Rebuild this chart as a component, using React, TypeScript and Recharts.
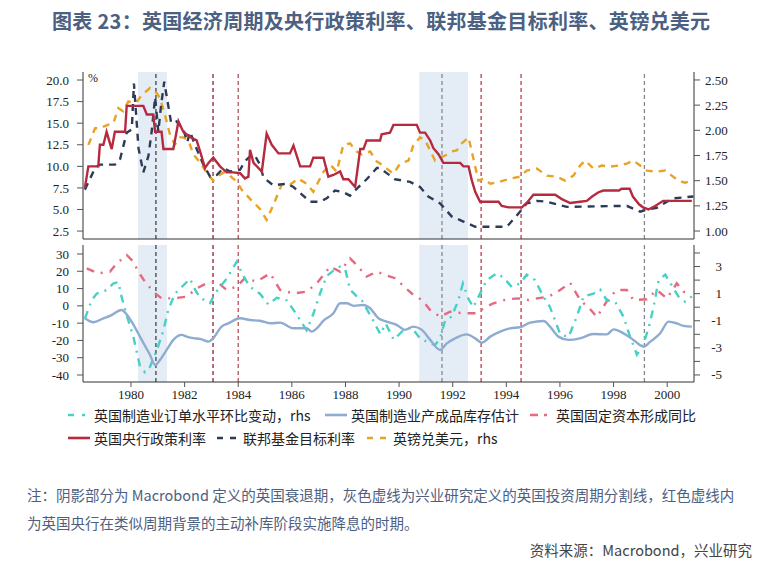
import React from "react";
import { LineChart, Line, XAxis, YAxis, ReferenceArea, ReferenceLine } from "recharts";

// [year, value]
const boeRate = [
  [1978.28, 7.5], [1978.41, 10], [1978.78, 10], [1978.84, 12.5], [1978.97, 12.5], [1979.09, 14],
  [1979.28, 12], [1979.4, 14], [1979.78, 14], [1979.84, 17], [1980.46, 17], [1980.59, 16],
  [1980.83, 16], [1980.9, 14], [1981.14, 14], [1981.21, 12], [1981.58, 12], [1981.77, 15.2],
  [1981.95, 14], [1982.2, 13.4], [1982.45, 13], [1982.58, 11.7], [1982.76, 9.8], [1982.89, 10.4],
  [1983.07, 11], [1983.32, 10], [1983.57, 9.3], [1983.82, 9.3], [1984.07, 9.2], [1984.25, 8.6],
  [1984.38, 8.8], [1984.44, 11.9], [1984.57, 10.4], [1984.88, 9.4], [1985.06, 13.8], [1985.25, 12.5],
  [1985.5, 11.5], [1985.93, 11.5], [1986.06, 12.4], [1986.31, 10], [1986.68, 10], [1986.8, 11],
  [1987.18, 11], [1987.36, 8.8], [1987.55, 9], [1987.8, 9.4], [1987.92, 8.5], [1988.11, 8.5],
  [1988.36, 7.6], [1988.55, 12], [1988.67, 12], [1988.79, 13], [1989.29, 13], [1989.35, 13.7],
  [1989.66, 13.9], [1989.79, 14.8], [1990.66, 14.8], [1990.78, 13.9], [1990.97, 13.9], [1991.16, 13],
  [1991.28, 12.1], [1991.47, 11.4], [1991.65, 10.4], [1992.28, 10.4], [1992.4, 10], [1992.59, 10],
  [1992.71, 8.4], [1992.84, 7.05], [1993.02, 5.9], [1993.71, 5.9], [1993.83, 5.4], [1994.08, 5.25],
  [1994.58, 5.25], [1994.76, 5.75], [1995.01, 6.7], [1995.82, 6.7], [1996.07, 6.2], [1996.38, 5.75],
  [1996.75, 5.9], [1997.0, 6.0], [1997.2, 6.5], [1997.44, 7.0], [1997.62, 7.2], [1998.2, 7.2],
  [1998.3, 7.4], [1998.6, 7.4], [1998.72, 6.5], [1998.95, 5.6], [1999.1, 5.25], [1999.3, 5.0],
  [1999.55, 5.4], [1999.85, 6.0], [2000.92, 6.0],
];

const fedFunds = [
  [1978.28, 7.3], [1978.66, 9.8], [1978.84, 10.2], [1979.4, 10.2], [1979.59, 10.8], [1979.84, 13.9],
  [1980.03, 14.3], [1980.11, 19.6], [1980.28, 12.1], [1980.46, 9.3], [1980.65, 11.2], [1980.77, 14],
  [1980.9, 18], [1981.02, 14], [1981.12, 17], [1981.24, 19.8], [1981.5, 15], [1981.7, 15.2],
  [1981.95, 14.3], [1982.1, 12.8], [1982.2, 14], [1982.45, 12], [1982.7, 10.2], [1982.95, 8.8],
  [1983.2, 9], [1983.45, 9.8], [1983.7, 9.4], [1984.07, 9.6], [1984.25, 10.6], [1984.5, 11.3],
  [1984.63, 11.2], [1984.81, 10.2], [1984.94, 8.7], [1985.31, 7.8], [1985.81, 8], [1986.06, 7.6],
  [1986.31, 6.9], [1986.68, 5.9], [1987.05, 5.9], [1987.3, 6.3], [1987.61, 7.2], [1987.92, 7],
  [1988.17, 6.6], [1988.42, 7.4], [1988.79, 8.5], [1989.17, 9.8], [1989.29, 9.8], [1989.5, 9.3],
  [1989.85, 8.5], [1990.41, 8.2], [1990.78, 7.6], [1991.09, 6.5], [1991.53, 5.7], [1991.96, 4.2],
  [1992.4, 3.6], [1992.84, 3.0], [1994.02, 3.0], [1994.39, 4.3], [1994.76, 5.7], [1995.14, 6.0],
  [1995.51, 5.9], [1996.01, 5.5], [1996.26, 5.3], [1998.0, 5.4], [1998.51, 5.4], [1998.99, 4.75],
  [1999.24, 5.0], [1999.61, 5.2], [1999.99, 5.9], [2000.24, 6.3], [2000.98, 6.5],
];

const gbpUsd = [
  [1978.41, 1.855], [1978.66, 2.02], [1978.84, 2.02], [1979.09, 2.05], [1979.34, 2.07], [1979.53, 2.22],
  [1979.71, 2.19], [1979.9, 2.285], [1980.21, 2.28], [1980.4, 2.35], [1980.71, 2.42], [1980.9, 2.39],
  [1981.08, 2.32], [1981.27, 2.15], [1981.46, 1.95], [1981.64, 1.86], [1981.83, 1.93], [1981.95, 1.93],
  [1982.14, 1.9], [1982.33, 1.76], [1982.58, 1.68], [1982.82, 1.58], [1983.07, 1.5], [1983.26, 1.55],
  [1983.45, 1.58], [1983.69, 1.55], [1983.94, 1.49], [1984.13, 1.41], [1984.44, 1.32], [1984.81, 1.22],
  [1985.06, 1.11], [1985.31, 1.26], [1985.62, 1.46], [1985.93, 1.46], [1986.24, 1.52], [1986.55, 1.47],
  [1986.8, 1.39], [1987.18, 1.59], [1987.43, 1.66], [1987.67, 1.59], [1987.92, 1.855], [1988.17, 1.87],
  [1988.42, 1.79], [1988.61, 1.76], [1988.92, 1.79], [1989.17, 1.69], [1989.29, 1.67], [1989.54, 1.62],
  [1989.79, 1.57], [1990.04, 1.67], [1990.35, 1.7], [1990.53, 1.85], [1990.78, 1.93], [1990.97, 1.9],
  [1991.16, 1.8], [1991.34, 1.7], [1991.53, 1.73], [1991.72, 1.75], [1991.96, 1.79], [1992.15, 1.8],
  [1992.34, 1.87], [1992.59, 1.93], [1992.77, 1.72], [1992.96, 1.5], [1993.15, 1.52], [1993.4, 1.47],
  [1993.77, 1.49], [1994.14, 1.52], [1994.51, 1.54], [1994.76, 1.6], [1995.14, 1.62], [1995.51, 1.55],
  [1995.88, 1.54], [1996.19, 1.5], [1996.5, 1.55], [1996.75, 1.65], [1996.94, 1.7], [1997.25, 1.62],
  [1997.56, 1.65], [1997.87, 1.64], [1998.18, 1.65], [1998.49, 1.67], [1998.74, 1.7], [1998.99, 1.65],
  [1999.24, 1.6], [1999.61, 1.59], [1999.92, 1.6], [2000.17, 1.55], [2000.42, 1.5], [2000.67, 1.48],
  [2000.92, 1.5],
];

const inventory = [
  [1978.28, -7.2], [1978.6, -9.5], [1978.97, -7.2], [1979.22, -5.8], [1979.65, -2.4], [1979.84, -5],
  [1980.09, -10.8], [1980.4, -19.7], [1980.71, -28.4], [1980.9, -34.2], [1981.08, -31.3], [1981.33, -25.5],
  [1981.58, -19.7], [1981.89, -16.8], [1982.08, -17.8], [1982.33, -18.7], [1982.58, -19.1], [1982.89, -20.7],
  [1983.07, -18.7], [1983.38, -12], [1983.63, -10.1], [1984.07, -7.2], [1984.44, -8.2], [1984.81, -8.6],
  [1985.19, -10.1], [1985.56, -9.7], [1986.06, -13], [1986.55, -13], [1986.74, -14.9], [1986.93, -13],
  [1987.18, -8.6], [1987.55, -4.3], [1987.8, 1.5], [1988.05, 1.5], [1988.3, 0], [1988.67, 0.5],
  [1988.92, -1.4], [1989.23, -7.2], [1989.54, -9.1], [1989.91, -11], [1990.22, -13.9], [1990.53, -12],
  [1990.85, -13.9], [1991.16, -19.7], [1991.53, -25.5], [1991.78, -21.7], [1992.09, -18.8], [1992.52, -16.5],
  [1992.84, -18.8], [1993.08, -21.3], [1993.4, -17.8], [1993.77, -14.9], [1994.14, -13], [1994.51, -12.4],
  [1994.89, -9.7], [1995.39, -8.8], [1995.63, -12], [1995.94, -17.8], [1996.32, -19.7], [1996.75, -18.8],
  [1997.25, -16.3], [1997.75, -16.5], [1998.0, -13.6], [1998.37, -15.9], [1998.74, -19.7], [1999.12, -23.6],
  [1999.37, -20.7], [1999.74, -15.9], [2000.05, -9.1], [2000.36, -10.1], [2000.61, -11.6], [2000.92, -12],
];

const fixedCapital = [
  [1978.35, 21.7], [1978.78, 18.8], [1979.22, 19.8], [1979.47, 24.6], [1979.84, 29.4], [1980.09, 25.5],
  [1980.27, 19.8], [1980.52, 14], [1980.83, 8.2], [1981.14, 4.3], [1981.58, 4.3], [1982.08, 5.3],
  [1982.45, 10.1], [1982.82, 13], [1983.2, 14], [1983.57, 9.2], [1983.94, 11.1], [1984.25, 16],
  [1984.69, 14], [1985.19, 18.8], [1985.56, 9.2], [1986.06, 7.2], [1986.55, 8.2], [1986.93, 13],
  [1987.43, 22.7], [1987.8, 19.8], [1988.17, 27.5], [1988.42, 23.6], [1988.79, 16.9], [1989.17, 19.8],
  [1989.48, 17.9], [1989.85, 16], [1990.53, 6.3], [1990.85, 3.4], [1991.16, -2.4], [1991.53, -6.3],
  [1991.9, -3.4], [1992.4, -4.3], [1992.9, -4.3], [1993.15, -1.4], [1993.52, 1.5], [1994.02, 3.8],
  [1994.45, 4.3], [1994.83, 3.4], [1995.14, 4.3], [1995.57, 5.3], [1996.01, 9.2], [1996.38, 13.4],
  [1996.75, 3.4], [1997.13, -2], [1997.38, -6.5], [1997.6, -1], [1997.8, 4], [1998.12, 9.2],
  [1998.49, 9.2], [1998.74, 3.4], [1999.24, 3.8], [1999.61, 9.2], [1999.99, 4.3], [2000.36, 13],
  [2000.61, 8.2], [2000.92, 7.2],
];

const orders = [
  [1978.28, -0.84], [1978.53, 0.5], [1978.72, 1.0], [1979.09, 1.26], [1979.34, 1.75], [1979.53, 1.85],
  [1979.65, 0.76], [1979.84, -0.6], [1980.09, -2.2], [1980.34, -4.4], [1980.52, -4.8], [1980.71, -4.4],
  [1980.96, -3.2], [1981.21, -1.7], [1981.39, -0.2], [1981.64, 1.0], [1981.95, 1.6], [1982.2, 2.1],
  [1982.39, 1.3], [1982.58, 0.7], [1982.95, 0.3], [1983.13, 1.0], [1983.32, 1.5], [1983.57, 2.1],
  [1983.94, 3.35], [1984.19, 2.3], [1984.44, 1.5], [1984.81, 1.0], [1985.12, 0.2], [1985.44, 0.7],
  [1985.81, 0.5], [1986.06, -0.2], [1986.31, -0.96], [1986.55, -1.7], [1986.8, -0.5], [1987.05, 1.0],
  [1987.3, 2.3], [1987.55, 2.7], [1987.8, 3.0], [1987.99, 2.8], [1988.17, 1.3], [1988.42, 0.8],
  [1988.61, 0.5], [1989.04, -1.0], [1989.3, -2.0], [1989.5, -1.2], [1989.8, -2.4], [1990.16, -1.7],
  [1990.47, -1.5], [1990.78, -2.3], [1991.09, -2.6], [1991.34, -2.8], [1991.53, -2.3], [1991.72, -0.96],
  [1991.96, -0.7], [1992.21, 0.5], [1992.38, 1.75], [1992.59, 0.6], [1992.77, 0.0], [1993.02, 1.0],
  [1993.27, 2.0], [1993.64, 2.5], [1993.89, 2.2], [1994.2, 1.5], [1994.51, 1.75], [1994.76, 2.4],
  [1995.07, 2.0], [1995.38, 0.8], [1995.63, 0.0], [1996.01, -2.0], [1996.32, -2.2], [1996.63, -0.7],
  [1996.88, 0.8], [1997.25, 1.0], [1997.5, 1.3], [1997.75, 0.5], [1998.06, 0.4], [1998.37, -0.7],
  [1998.62, -2.2], [1998.87, -3.5], [1999.12, -2.7], [1999.31, -1.5], [1999.49, 0.0], [1999.68, 2.0],
  [1999.93, 2.4], [2000.17, 1.6], [2000.42, 0.8], [2000.67, 0.4], [2000.92, 0.8],
];

const recessions = [[1980.26, 1981.34], [1990.75, 1992.57]];
const cycleLines = [1980.93, 1991.6, 1999.15];
const cutLines = [1983.06, 1984.0, 1993.06, 1994.55];

const xTicks = [1980, 1982, 1984, 1986, 1988, 1990, 1992, 1994, 1996, 1998, 2000];
const topLeftTicks = [2.5, 5, 7.5, 10, 12.5, 15, 17.5, 20];
const topRightTicks = [1.0, 1.25, 1.5, 1.75, 2.0, 2.25, 2.5];
const bottomLeftTicks = [-40, -30, -20, -10, 0, 10, 20, 30];
const bottomRightTicks = [-5, -4, -3, -2, -1, 0, 1, 2, 3, 4];

const toPts = (a: number[][]) => a.map(([x, y]) => ({ x, y }));

const X_DOMAIN: [number, number] = [1978.21, 2001.0];
const tickFont = { fontFamily: "'Liberation Serif', serif", fontSize: 13, fill: "#222" };
const axisColor = "#333";

const SHADE = "#E4ECF6";
const RED_LINES = ["#8E2233", "#B8505E", "#C23B4E", "#C23B4E"];
const GREY_LINES = ["#444", "#888", "#888"];

const COLORS = {
  boe: "#B52A3E",
  fed: "#2C3B57",
  gbp: "#E8A325",
  orders: "#45D1C6",
  inventory: "#8EABD1",
  fixed: "#E5697F",
};

const Marks = () => (
  <>
    {recessions.map(([a, b], i) => (
      <ReferenceArea key={"r" + i} yAxisId="left" x1={a} x2={b} fill={SHADE} fillOpacity={1} stroke="none" ifOverflow="hidden" />
    ))}
    {cycleLines.map((x, i) => (
      <ReferenceLine key={"g" + i} yAxisId="left" x={x} stroke={GREY_LINES[i]} strokeDasharray="4 3" strokeWidth={1.3} />
    ))}
    {cutLines.map((x, i) => (
      <ReferenceLine key={"c" + i} yAxisId="left" x={x} stroke={RED_LINES[i]} strokeDasharray="4 3" strokeWidth={1.3} />
    ))}
  </>
);

// right axis of the lower panel: a tick at every integer, a label only on odd ones
const RightOddTick = (props: any) => {
  const { x, y, payload } = props;
  const v = Math.round(payload.value);
  if (Math.abs(v) % 2 !== 1) return <g />;
  return (
    <text x={x + 20} y={y} dy={4.5} textAnchor="end" {...tickFont}>
      {v}
    </text>
  );
};

const Swatch = ({ color, dash }: { color: string; dash?: string }) => (
  <svg width={22} height={10} style={{ display: "inline-block", verticalAlign: "middle" }}>
    <line x1={0} y1={5} x2={22} y2={5} stroke={color} strokeWidth={2.6} strokeDasharray={dash} />
  </svg>
);

const legendItems = [
  { label: "英国制造业订单水平环比变动，rhs", color: COLORS.orders, dash: "6 8 3 30", left: 68, top: 404 },
  { label: "英国制造业产成品库存估计", color: COLORS.inventory, dash: undefined, left: 325, top: 404 },
  { label: "英国固定资本形成同比", color: COLORS.fixed, dash: "8 6 3 5 3 30", left: 530, top: 404 },
  { label: "英国央行政策利率", color: COLORS.boe, dash: undefined, left: 68, top: 427 },
  { label: "联邦基金目标利率", color: COLORS.fed, dash: "6 7", left: 217, top: 427 },
  { label: "英镑兑美元，rhs", color: COLORS.gbp, dash: "6 7", left: 367, top: 427 },
];

export default function App() {
  const cjk = "'Noto Sans CJK SC', 'Noto Sans', sans-serif";
  return (
    <div style={{ position: "absolute", left: 0, top: 0, width: 774, height: 569, background: "#fff", overflow: "hidden" }}>
      <div style={{ position: "absolute", left: 52, top: 6, fontFamily: cjk, fontWeight: 700, fontSize: 20, color: "#4C6081", whiteSpace: "nowrap", letterSpacing: 0.3 }}>
        图表 23：英国经济周期及央行政策利率、联邦基金目标利率、英镑兑美元
      </div>

      <div style={{ position: "absolute", left: 0, top: 0 }}>
        <LineChart width={774} height={245} margin={{ top: 72, right: 0, bottom: 0, left: 0 }}>
          <XAxis type="number" dataKey="x" domain={X_DOMAIN} allowDataOverflow ticks={xTicks} tick={false} tickLine={false} height={6} axisLine={{ stroke: axisColor }} />
          <YAxis yAxisId="left" orientation="left" width={83} domain={[1.58, 20.93]} allowDataOverflow ticks={topLeftTicks} interval={0}
            tickFormatter={(v: number) => v.toFixed(1)} tick={tickFont} tickSize={6} tickMargin={8}
            axisLine={{ stroke: axisColor }} tickLine={{ stroke: "#555" }} />
          <YAxis yAxisId="right" orientation="right" width={80} domain={[0.921, 2.579]} allowDataOverflow ticks={topRightTicks} interval={0}
            tickFormatter={(v: number) => v.toFixed(2)} tick={tickFont} tickSize={6} tickMargin={5}
            axisLine={{ stroke: axisColor }} tickLine={{ stroke: "#555" }} />
          {Marks()}
          <Line yAxisId="right" data={toPts(gbpUsd)} dataKey="y" type="linear" stroke={COLORS.gbp} strokeWidth={2.4} strokeDasharray="7 6" dot={false} isAnimationActive={false} />
          <Line yAxisId="left" data={toPts(fedFunds)} dataKey="y" type="linear" stroke={COLORS.fed} strokeWidth={2.4} strokeDasharray="7 6" dot={false} isAnimationActive={false} />
          <Line yAxisId="left" data={toPts(boeRate)} dataKey="y" type="linear" stroke={COLORS.boe} strokeWidth={2.4} dot={false} isAnimationActive={false} />
        </LineChart>
      </div>

      <div style={{ position: "absolute", left: 0, top: 245 }}>
        <LineChart width={774} height={160} margin={{ top: 0, right: 0, bottom: 0, left: 0 }}>
          <XAxis type="number" dataKey="x" domain={X_DOMAIN} allowDataOverflow ticks={xTicks} interval={0} tick={tickFont} tickSize={5} tickMargin={3} height={23}
            axisLine={{ stroke: axisColor }} tickLine={{ stroke: "#555" }} />
          <YAxis yAxisId="left" orientation="left" width={83} domain={[-44.05, 35.2]} allowDataOverflow ticks={bottomLeftTicks} interval={0}
            tick={tickFont} tickSize={6} tickMargin={8} axisLine={{ stroke: axisColor }} tickLine={{ stroke: "#555" }} />
          <YAxis yAxisId="right" orientation="right" width={80} domain={[-5.52, 4.59]} allowDataOverflow ticks={bottomRightTicks} interval={0}
            tick={<RightOddTick />} tickSize={6} axisLine={{ stroke: axisColor }} tickLine={{ stroke: "#555" }} />
          {Marks()}
          <Line yAxisId="left" data={toPts(fixedCapital)} dataKey="y" type="linear" stroke={COLORS.fixed} strokeWidth={2.4} strokeDasharray="8 7 2 7" dot={false} isAnimationActive={false} />
          <Line yAxisId="right" data={toPts(orders)} dataKey="y" type="linear" stroke={COLORS.orders} strokeWidth={2.4} strokeDasharray="8 6 2 6" dot={false} isAnimationActive={false} />
          <Line yAxisId="left" data={toPts(inventory)} dataKey="y" type="monotone" stroke={COLORS.inventory} strokeWidth={2.4} dot={false} isAnimationActive={false} />
        </LineChart>
      </div>

      <div style={{ position: "absolute", left: 88, top: 71, fontFamily: "'Liberation Serif', serif", fontSize: 12, color: "#222" }}>%</div>

      {legendItems.map((it) => (
        <div key={it.label} style={{ position: "absolute", left: it.left, top: it.top, fontFamily: cjk, fontSize: 14, color: "#222", whiteSpace: "nowrap", lineHeight: "18px" }}>
          <Swatch color={it.color} dash={it.dash} />
          <span style={{ marginLeft: 4, verticalAlign: "middle" }}>{it.label}</span>
        </div>
      ))}

      <div style={{ position: "absolute", left: 27, top: 481, fontFamily: cjk, fontSize: 14.5, color: "#4E607F", whiteSpace: "nowrap", lineHeight: "28px" }}>
        <div>注：阴影部分为 Macrobond 定义的英国衰退期，灰色虚线为兴业研究定义的英国投资周期分割线，红色虚线内</div>
        <div>为英国央行在类似周期背景的主动补库阶段实施降息的时期。</div>
      </div>
      <div style={{ position: "absolute", right: 22, top: 539, fontFamily: cjk, fontSize: 14.5, color: "#444", whiteSpace: "nowrap" }}>
        资料来源：Macrobond，兴业研究
      </div>
    </div>
  );
}
